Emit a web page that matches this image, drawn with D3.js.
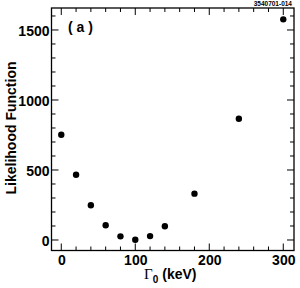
<!DOCTYPE html>
<html>
<head>
<meta charset="utf-8">
<script src="https://cdn.jsdelivr.net/npm/d3@7"></script>
<style>
  body { margin: 0; background: #fff; }
  svg { display: block; }
  .tick text { font-family: "Liberation Sans", Arial, sans-serif; font-weight: bold; font-size: 14px; }
</style>
</head>
<body>
<svg id="chart" width="300" height="288"></svg>
<script>
// width values (keV) and likelihood values
const gammaValues = [0, 20, 40, 60, 80, 100, 120, 140, 180, 240, 300];
const likelihoodValues = [752, 466, 248, 105, 26, 2, 28, 98, 331, 866, 1576];
const xTickLabels = [0, 100, 200, 300];
const yTickLabels = [0, 500, 1000, 1500];

const svg = d3.select('#chart');
const plotLeft = 51.5, plotRight = 294, plotTop = 8, plotBottom = 250.5;

const x = d3.scaleLinear().domain([-13.2, 314.5]).range([plotLeft, plotRight]);
const y = d3.scaleLinear().domain([-75, 1657]).range([plotBottom, plotTop]);

// frame
svg.append('rect')
  .attr('x', plotLeft).attr('y', plotTop)
  .attr('width', plotRight - plotLeft).attr('height', plotBottom - plotTop)
  .attr('fill', 'none').attr('stroke', '#000').attr('stroke-width', 1.3);

const xMinor = d3.range(0, 320, 20);
const yMinor = d3.range(0, 1700, 100);

// inward ticks on all four sides
const tickG = svg.append('g').attr('stroke', '#000').attr('stroke-width', 1);
xMinor.forEach(v => {
  const len = v % 100 === 0 ? 7 : 4;
  tickG.append('line').attr('x1', x(v)).attr('x2', x(v)).attr('y1', plotBottom).attr('y2', plotBottom - len);
  tickG.append('line').attr('x1', x(v)).attr('x2', x(v)).attr('y1', plotTop).attr('y2', plotTop + len);
});
yMinor.filter(v => y(v) > plotTop).forEach(v => {
  const len = v % 500 === 0 ? 7 : 4;
  tickG.append('line').attr('y1', y(v)).attr('y2', y(v)).attr('x1', plotLeft).attr('x2', plotLeft + len);
  tickG.append('line').attr('y1', y(v)).attr('y2', y(v)).attr('x1', plotRight).attr('x2', plotRight - len);
});

// axis labels via d3 axes (tick lines hidden, drawn above)
svg.append('g')
  .attr('transform', `translate(0,${plotBottom})`)
  .call(d3.axisBottom(x).tickValues(xTickLabels).tickFormat(d3.format('d')).tickSize(0).tickPadding(5))
  .call(g => g.select('.domain').remove());

svg.append('g')
  .attr('transform', `translate(${plotLeft},0)`)
  .call(d3.axisLeft(y).tickValues(yTickLabels).tickFormat(d3.format('d')).tickSize(0).tickPadding(2))
  .call(g => g.select('.domain').remove())
  .call(g => g.selectAll('text').attr('dy', '0.36em'));

svg.selectAll('.tick text').attr('fill', '#000');

// data points
svg.append('g')
  .selectAll('circle')
  .data(gammaValues)
  .enter().append('circle')
  .attr('cx', d => x(d))
  .attr('cy', (d, i) => y(likelihoodValues[i]))
  .attr('r', 3.2)
  .attr('fill', '#000');

// y title
svg.append('text')
  .attr('transform', 'translate(15.5,128) rotate(-90)')
  .attr('text-anchor', 'middle')
  .style('font-family', '"Liberation Sans", Arial, sans-serif')
  .style('font-weight', 'bold')
  .style('font-size', '14px')
  .text('Likelihood Function');

// x title: Gamma_0 (keV)
const xt = svg.append('text')
  .attr('x', 144).attr('y', 279)
  .style('font-family', '"Liberation Sans", Arial, sans-serif')
  .style('font-weight', 'bold')
  .style('font-size', '14px');
xt.append('tspan')
  .style('font-family', '"Liberation Serif", "Times New Roman", serif')
  .style('font-weight', 'normal')
  .style('font-size', '15px')
  .text('Γ');
xt.append('tspan').attr('dy', 4).style('font-size', '10px').text('0');
xt.append('tspan').attr('dy', -4).attr('dx', 4).text('(keV)');

// panel label
svg.append('text')
  .attr('x', 68).attr('y', 32)
  .style('font-family', '"Liberation Sans", Arial, sans-serif')
  .style('font-weight', 'bold')
  .style('font-size', '14px')
  .text('(\u00a0a\u00a0)');

// figure id
svg.append('text')
  .attr('x', 292).attr('y', 6)
  .attr('text-anchor', 'end')
  .style('font-family', '"Liberation Sans", Arial, sans-serif')
  .style('font-size', '6.5px')
  .style('font-weight', 'bold')
  .text('3540701-014');
</script>
</body>
</html>
